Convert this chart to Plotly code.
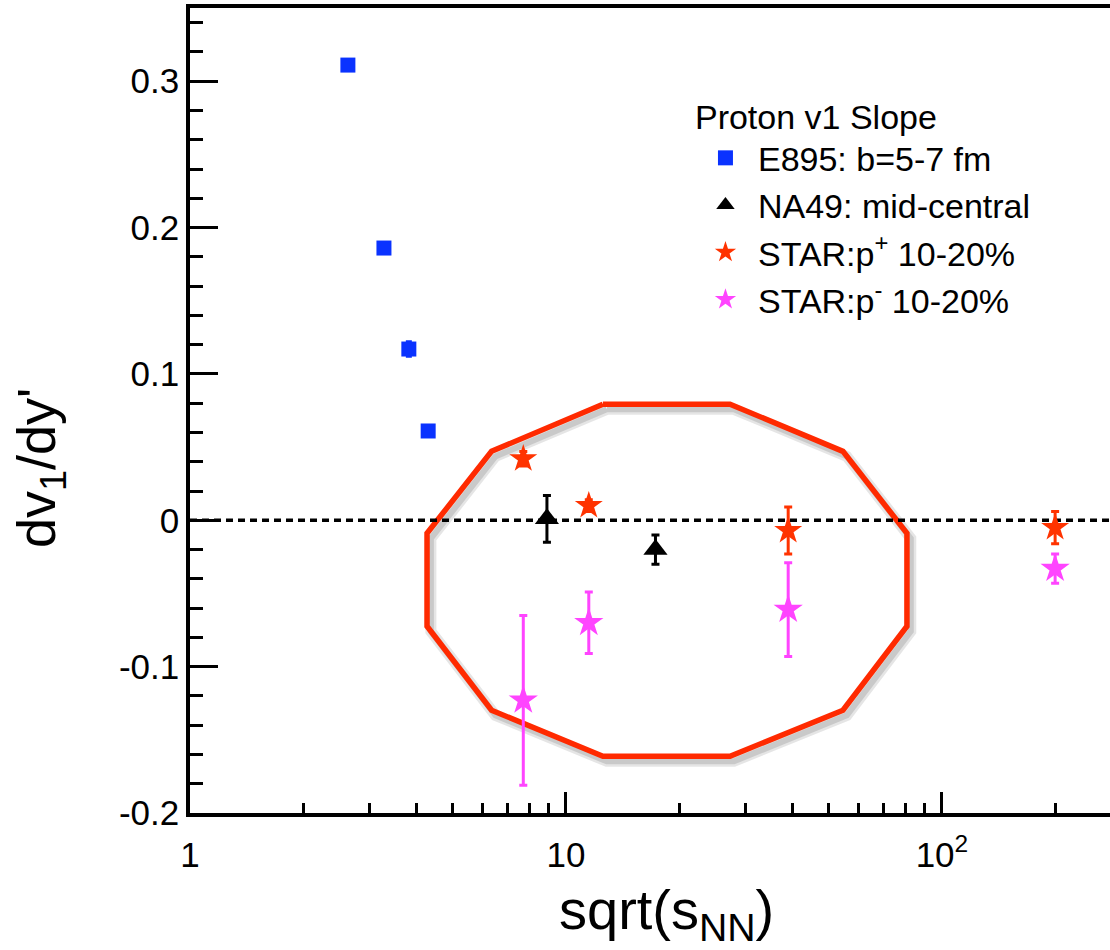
import plotly.graph_objects as go

# ---- data ----
e895_x = [2.63, 3.28, 3.82, 4.30]
e895_y = [0.311, 0.186, 0.117, 0.061]
e895_err = [0.002, 0.002, 0.005, 0.002]

na49_x = [8.9, 17.3]
na49_y = [0.001, -0.020]
na49_err = [0.016, 0.010]

star_x = [7.7, 11.5, 39.0, 200.0]
starp_y = [0.042, 0.010, -0.007, -0.005]
starp_err = [0.005, 0.004, 0.016, 0.011]
starpbar_y = [-0.123, -0.070, -0.061, -0.033]
starpbar_err = [0.058, 0.021, 0.032, 0.010]

# highlight polygon (annotation) in data coordinates
poly_x = [12.54, 27.31, 54.54, 80.7, 80.7, 54.54, 27.31, 12.54, 6.34, 4.27, 4.27, 6.34, 12.54]
poly_y = [0.0793, 0.0793, 0.0471, -0.0089, -0.0724, -0.1298, -0.1612, -0.1612, -0.1298, -0.0724, -0.0089, 0.0471, 0.0793]

x_range_log = [0.0, 2.447]
y_range = [-0.2, 0.35]
y_tickvals = [-0.2, -0.1, 0, 0.1, 0.2, 0.3]
y_ticktext = ["-0.2", "-0.1", "0", "0.1", "0.2", "0.3"]
x_tickvals = [1, 10, 100]
x_ticktext = ["1", "10", "10<sup>2</sup>"]
x_minor = [2, 3, 4, 5, 6, 7, 8, 9, 20, 30, 40, 50, 60, 70, 80, 90, 200]

FONT = "Liberation Sans, Arial, sans-serif"
BLUE = "#0a32ff"
RED = "#ff3300"
MAG = "#ff44ff"
POLY = "#ff2a00"

fig = go.Figure()

# polygon shadow + polygon
fig.add_trace(go.Scatter(
    x=[v * 1.024 for v in poly_x], y=[v - 0.0035 for v in poly_y],
    mode="lines", line=dict(color="rgba(0,0,0,0.10)", width=11),
    showlegend=False, hoverinfo="skip"))
fig.add_trace(go.Scatter(
    x=[v * 1.024 for v in poly_x], y=[v - 0.0035 for v in poly_y],
    mode="lines", line=dict(color="rgba(0,0,0,0.12)", width=6),
    showlegend=False, hoverinfo="skip"))
fig.add_trace(go.Scatter(
    x=poly_x, y=poly_y, mode="lines",
    line=dict(color=POLY, width=5.5), showlegend=False, hoverinfo="skip"))

# zero line
fig.add_trace(go.Scatter(
    x=[10 ** x_range_log[0], 10 ** x_range_log[1]], y=[0, 0], mode="lines",
    line=dict(color="black", width=3.3, dash="7px,5px"),
    showlegend=False, hoverinfo="skip"))

fig.add_trace(go.Scatter(
    x=e895_x, y=e895_y, mode="markers", name="E895: b=5-7 fm",
    marker=dict(symbol="square", size=15, color=BLUE),
    error_y=dict(type="data", array=e895_err, color=BLUE, thickness=3, width=3)))
fig.add_trace(go.Scatter(
    x=na49_x, y=na49_y, mode="markers", name="NA49: mid-central",
    marker=dict(symbol="triangle-up", size=21, color="black"),
    error_y=dict(type="data", array=na49_err, color="black", thickness=3, width=4)))
fig.add_trace(go.Scatter(
    x=star_x, y=starp_y, mode="markers", name="STAR:p<sup>+</sup> 10-20%",
    marker=dict(symbol="star", size=21, color=RED),
    error_y=dict(type="data", array=starp_err, color=RED, thickness=3, width=4)))
fig.add_trace(go.Scatter(
    x=star_x, y=starpbar_y, mode="markers", name="STAR:p<sup>-</sup> 10-20%",
    marker=dict(symbol="star", size=22, color=MAG),
    error_y=dict(type="data", array=starpbar_err, color=MAG, thickness=3, width=4)))

fig.update_layout(
    width=1110, height=950,
    margin=dict(l=190, r=0, t=8, b=137),
    paper_bgcolor="white", plot_bgcolor="white",
    font=dict(family=FONT, color="black", size=35),
    legend=dict(
        x=0.5467, y=0.9043, xanchor="left", yanchor="top",
        bgcolor="rgba(0,0,0,0)", borderwidth=0,
        font=dict(family=FONT, size=34, color="black"),
        title=dict(text="Proton v1 Slope", font=dict(family=FONT, size=34, color="black")),
        itemwidth=55,
    ),
    xaxis=dict(
        type="log", range=x_range_log,
        showgrid=False, zeroline=False,
        showline=True, linecolor="black", linewidth=3.5, mirror=True,
        ticks="inside", ticklen=21, tickwidth=3, tickcolor="black",
        tickvals=x_tickvals, ticktext=x_ticktext,
        tickfont=dict(family=FONT, size=35, color="black"),
        ticklabelstandoff=8,
        minor=dict(ticks="inside", ticklen=10, tickwidth=3, tickcolor="black",
                   tickvals=x_minor, showgrid=False),
    ),
    yaxis=dict(
        range=y_range,
        showgrid=False, zeroline=False,
        showline=True, linecolor="black", linewidth=3.5, mirror=False,
        ticks="inside", ticklen=28, tickwidth=3, tickcolor="black",
        tickvals=y_tickvals, ticktext=y_ticktext,
        tickfont=dict(family=FONT, size=35, color="black"),
        ticklabelstandoff=0,
        minor=dict(ticks="inside", ticklen=13, tickwidth=3, tickcolor="black",
                   dtick=0.02, tick0=0, showgrid=False),
    ),
    annotations=[
        dict(text="sqrt(s<sub>NN</sub>)", xref="paper", yref="paper",
             x=0.399, y=-0.0783, xanchor="left", yanchor="top", showarrow=False,
             font=dict(family=FONT, size=56, color="black")),
        dict(text="dv<sub>1</sub>/dy'", xref="paper", yref="paper",
             x=-0.163, y=0.4286, xanchor="center", yanchor="middle", showarrow=False,
             textangle=-90, font=dict(family=FONT, size=54, color="black")),
    ],
)

fig.write_html("out.html", config={"displayModeBar": False},
               post_script="document.body.style.margin='0';")
